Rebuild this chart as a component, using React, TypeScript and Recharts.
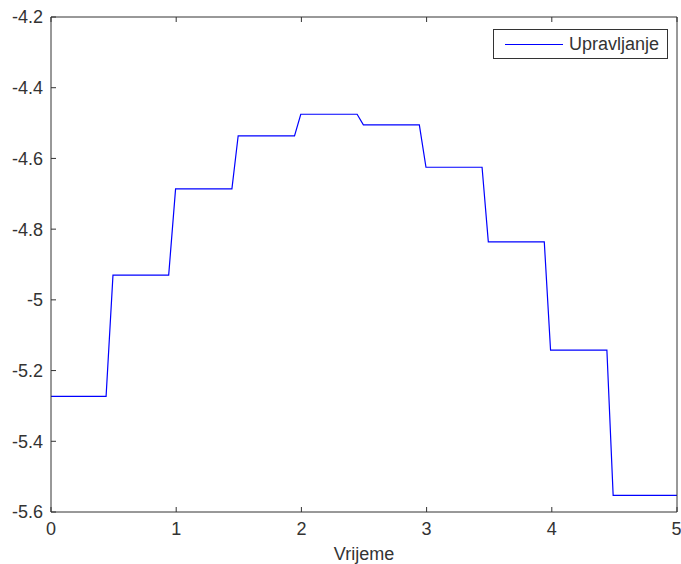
import { LineChart, Line, XAxis, YAxis, Legend } from 'recharts'

// simulation time samples and control signal
const times = [0, 0.44, 0.495, 0.94, 0.995, 1.445, 1.495, 1.945, 1.995, 2.445, 2.495, 2.942, 2.995, 3.443, 3.493, 3.94, 3.99, 4.44, 4.49, 5]
const upravljanje = [-5.273, -5.273, -4.93, -4.93, -4.686, -4.686, -4.536, -4.536, -4.475, -4.475, -4.505, -4.505, -4.625, -4.625, -4.836, -4.836, -5.142, -5.142, -5.553, -5.553]

const xTicks = [0, 1, 2, 3, 4, 5]
const yTicks = [-5.6, -5.4, -5.2, -5, -4.8, -4.6, -4.4, -4.2]

const data = times.map((t, i) => ({ t, u: upravljanje[i] }))

const axisColor = '#333'
const font = 'Arial, "Liberation Sans", Helvetica, sans-serif'
const tickStyle = { fontSize: 18, fill: '#333', fontFamily: font }

const fmt = (v: number) => String(Number(v.toFixed(1)))

function LegendBox() {
  return (
    <div
      style={{
        width: 175,
        height: 30,
        border: '1px solid #333',
        background: 'white',
        display: 'flex',
        alignItems: 'center',
        boxSizing: 'border-box',
        fontFamily: font,
        fontSize: 18,
        color: '#333',
      }}
    >
      <div style={{ width: 58, height: 0, borderTop: '1px solid #0000ff', marginLeft: 11, marginRight: 6 }} />
      <span>Upravljanje</span>
    </div>
  )
}

export default function App() {
  return (
    <div style={{ position: 'absolute', left: 0, top: 0, background: 'white' }}>
      <LineChart width={681} height={564} data={data} margin={{ top: 16, right: 3, left: 0, bottom: 0 }}>
        <XAxis
          xAxisId="b"
          dataKey="t"
          type="number"
          domain={[0, 5]}
          ticks={xTicks}
          height={52}
          stroke={axisColor}
          tickSize={-5}
          tickMargin={15}
          tick={tickStyle}
          label={{ value: 'Vrijeme', position: 'insideBottom', offset: 4, style: { fontSize: 18, fill: '#333', fontFamily: font } }}
        />
        <XAxis
          xAxisId="t"
          orientation="top"
          dataKey="t"
          type="number"
          domain={[0, 5]}
          ticks={xTicks}
          height={1}
          stroke={axisColor}
          tickSize={-5}
          tickFormatter={() => ''}
        />
        <YAxis
          yAxisId="l"
          type="number"
          domain={[-5.6, -4.2]}
          ticks={yTicks}
          width={51}
          stroke={axisColor}
          tickSize={-5}
          tickMargin={13}
          tick={tickStyle}
          tickFormatter={fmt}
          interval={0}
        />
        <YAxis
          yAxisId="r"
          orientation="right"
          type="number"
          domain={[-5.6, -4.2]}
          ticks={yTicks}
          width={1}
          stroke={axisColor}
          tickSize={-5}
          tickFormatter={() => ''}
          interval={0}
        />
        <Legend
          layout="vertical"
          align="center"
          verticalAlign="middle"
          content={() => <LegendBox />}
          wrapperStyle={{ position: 'absolute', left: 493, top: 29, width: 175 }}
        />
        <Line
          xAxisId="b"
          yAxisId="l"
          type="linear"
          dataKey="u"
          stroke="#0000ff"
          strokeWidth={1.2}
          dot={false}
          isAnimationActive={false}
          name="Upravljanje"
        />
      </LineChart>
    </div>
  )
}
